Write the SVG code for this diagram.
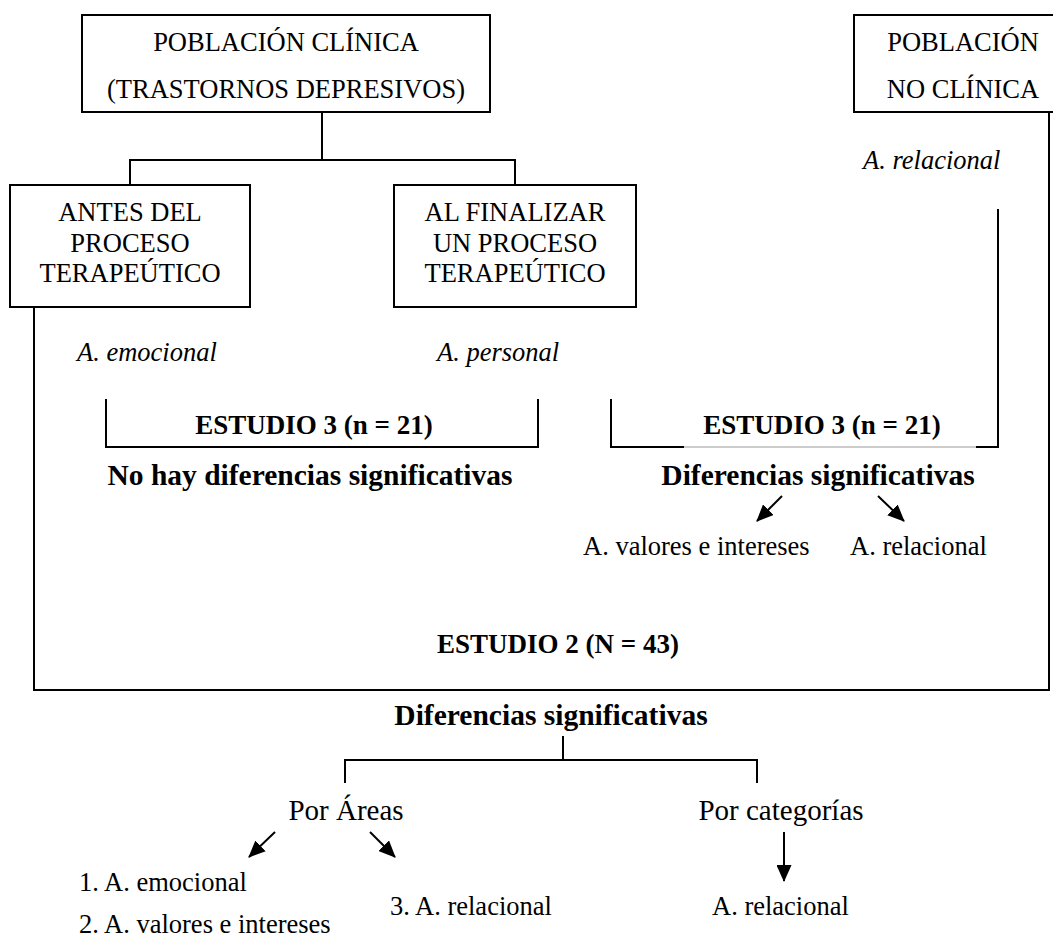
<svg xmlns="http://www.w3.org/2000/svg" width="1053" height="938" viewBox="0 0 1053 938">
<style>
text{font-family:"Liberation Serif","Times New Roman",serif;fill:#000}
.r{font-size:26.5px}
.i{font-size:26.5px;font-style:italic}
.b{font-size:27px;font-weight:bold}
.bl{font-size:29.5px;font-weight:bold}
.p{font-size:29px}
.m{text-anchor:middle}
.box{fill:#fff;stroke:#000;stroke-width:2}
.ln{fill:none;stroke:#000;stroke-width:2}
.ar{fill:none;stroke:#000;stroke-width:2}
</style>
<defs>
<marker id="ah" markerWidth="17" markerHeight="15" refX="16" refY="7.5" orient="auto" markerUnits="userSpaceOnUse"><path d="M0,0 L17,7.5 L0,15 z" fill="#000"/></marker>
</defs>
<rect width="1053" height="938" fill="#fff"/>
<g id="connectors">
<polyline class="ln" points="322,112 322,160 130,160 130,185"/>
<polyline class="ln" points="322,160 515,160 515,185"/>
<polyline class="ln" points="34,307 34,690 1049,690 1049,112"/>
<polyline class="ln" points="106,399 106,447 538,447 538,399"/>
<polyline class="ln" points="611,399 611,447 684,447"/>
<line x1="684" y1="447" x2="976" y2="447" stroke="#9a9a9a" stroke-width="1.2"/>
<polyline class="ln" points="976,447 998,447 998,209"/>
<line class="ar" x1="782" y1="496" x2="757" y2="521" marker-end="url(#ah)"/>
<line class="ar" x1="878" y1="496" x2="904" y2="521" marker-end="url(#ah)"/>
<polyline class="ln" points="563,736 563,760"/>
<polyline class="ln" points="345,783 345,760 757,760 757,783"/>
<line class="ar" x1="275" y1="832" x2="249" y2="857" marker-end="url(#ah)"/>
<line class="ar" x1="370" y1="832" x2="395" y2="857" marker-end="url(#ah)"/>
<line class="ar" x1="784" y1="832" x2="784" y2="881" marker-end="url(#ah)"/>
</g>
<g id="poblacion-clinica">
<rect class="box" x="82" y="15" width="408" height="97"/>
<text class="r m" x="286" y="51">POBLACIÓN CLÍNICA</text>
<text class="r m" x="286" y="98">(TRASTORNOS DEPRESIVOS)</text>
</g>
<g id="poblacion-no-clinica">
<rect class="box" x="854" y="15" width="210" height="97"/>
<text class="r m" x="963" y="51">POBLACIÓN</text>
<text class="r m" x="963" y="98">NO CLÍNICA</text>
</g>
<g id="antes">
<rect class="box" x="10" y="185" width="240" height="122"/>
<text class="r m" x="130" y="221">ANTES DEL</text>
<text class="r m" x="130" y="252">PROCESO</text>
<text class="r m" x="130" y="282">TERAPEÚTICO</text>
</g>
<g id="al-finalizar">
<rect class="box" x="394" y="185" width="242" height="122"/>
<text class="r m" x="515" y="221">AL FINALIZAR</text>
<text class="r m" x="515" y="252">UN PROCESO</text>
<text class="r m" x="515" y="282">TERAPEÚTICO</text>
</g>
<g id="labels-italic">
<text class="i" x="863" y="169">A. relacional</text>
<text class="i" x="77" y="361">A. emocional</text>
<text class="i" x="437" y="361">A. personal</text>
</g>
<g id="estudio3-izq">
<text class="b m" x="314" y="434">ESTUDIO 3 (n = 21)</text>
<text class="bl m" x="310" y="485">No hay diferencias significativas</text>
</g>
<g id="estudio3-der">
<text class="b m" x="822" y="434">ESTUDIO 3 (n = 21)</text>
<text class="bl m" x="818" y="485">Diferencias significativas</text>
<text class="r" x="583" y="555">A. valores e intereses</text>
<text class="r" x="850" y="555">A. relacional</text>
</g>
<g id="estudio2">
<text class="b m" x="558" y="653">ESTUDIO 2 (N = 43)</text>
</g>
<g id="resultado">
<text class="bl m" x="551" y="725">Diferencias significativas</text>
</g>
<g id="por-areas">
<text class="p m" x="346" y="820">Por Áreas</text>
<text class="r" x="79" y="891">1. A. emocional</text>
<text class="r" x="79" y="933">2. A. valores e intereses</text>
<text class="r" x="390" y="915">3. A. relacional</text>
</g>
<g id="por-categorias">
<text class="p m" x="781" y="820">Por categorías</text>
<text class="r" x="712" y="915">A. relacional</text>
</g>
</svg>
